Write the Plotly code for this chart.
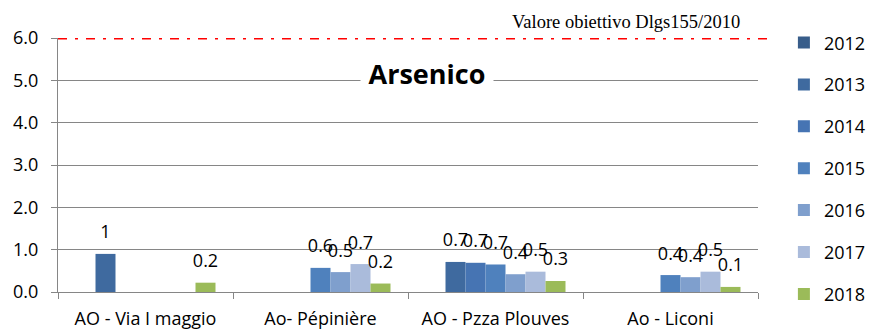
import plotly.graph_objects as go

categories = ["AO - Via I maggio", "Ao- Pépinière", "AO - Pzza Plouves", "Ao - Liconi"]
years = ["2012", "2013", "2014", "2015", "2016", "2017", "2018"]

v2012 = [None, None, None, None]
v2013 = [0.9, None, 0.71, None]
v2014 = [None, None, 0.69, None]
v2015 = [None, 0.57, 0.65, 0.40]
v2016 = [None, 0.47, 0.42, 0.35]
v2017 = [None, 0.66, 0.48, 0.48]
v2018 = [0.22, 0.20, 0.26, 0.12]

l2012 = [None, None, None, None]
l2013 = ["1", None, "0.7", None]
l2014 = [None, None, "0.7", None]
l2015 = [None, "0.6", "0.7", "0.4"]
l2016 = [None, "0.5", "0.4", "0.4"]
l2017 = [None, "0.7", "0.5", "0.5"]
l2018 = ["0.2", "0.2", "0.3", "0.1"]

series_values = [v2012, v2013, v2014, v2015, v2016, v2017, v2018]
series_labels = [l2012, l2013, l2014, l2015, l2016, l2017, l2018]
colors = ["#385D8A", "#3F6A9F", "#4674B3", "#4F81BD", "#7F9FCD", "#AABBDB", "#9BBB59"]

target_value = 6.0
target_label = "Valore obiettivo Dlgs155/2010"
title_text = "Arsenico"

FONT = "Open Sans"
fig = go.Figure()

for yr, vals, col in zip(years, series_values, colors):
    fig.add_trace(go.Bar(
        x=categories, y=vals, name=yr, marker=dict(color=col, line=dict(width=0)),
        legendgroup=yr, hoverinfo="skip",
    ))

for yr, vals, labs in zip(years, series_values, series_labels):
    fig.add_trace(go.Scatter(
        x=categories, y=vals, text=labs, mode="markers+text",
        marker=dict(size=16, color="rgba(0,0,0,0)"),
        textposition="top center", textfont=dict(family=FONT, size=18, color="#000000"),
        showlegend=False, hoverinfo="skip", cliponaxis=False,
    ))

gray = "#868686"
fig.update_layout(
    width=869, height=329,
    margin=dict(l=58, r=111, t=38, b=37, pad=0, autoexpand=False),
    paper_bgcolor="white", plot_bgcolor="white",
    barmode="group", bargap=0.2, bargroupgap=0,
    scattermode="group", scattergap=0.2,
    font=dict(family=FONT, size=18, color="#000000"),
    showlegend=True,
    legend=dict(x=1.037, xanchor="left", y=1.054, yanchor="top", maxheight=325,
                font=dict(family=FONT, size=18, color="#000000"),
                tracegroupgap=15.5, itemwidth=30, bgcolor="rgba(0,0,0,0)"),
    xaxis=dict(type="category", showgrid=False, showline=True, linecolor=gray, linewidth=1,
               ticks="outside", tickson="boundaries", ticklen=6, tickcolor=gray,
               ticklabelstandoff=10, tickfont=dict(family=FONT, size=18)),
    yaxis=dict(range=[0, 6], dtick=1, tickformat=".1f", showgrid=True, gridcolor=gray, gridwidth=1,
               showline=True, linecolor=gray, linewidth=1, ticks="outside", ticklen=6,
               tickcolor=gray, zeroline=False, ticklabelstandoff=9,
               tickfont=dict(family=FONT, size=18)),
)

fig.add_shape(type="line", xref="paper", yref="y", x0=0, x1=1.02, y0=target_value, y1=target_value,
              line=dict(color="#FF0000", width=3, dash="9px,8px,3px,8px"))

fig.add_annotation(text="<b>" + title_text + "</b>", xref="paper", yref="paper",
                   x=0.527, y=0.862, xanchor="center", yanchor="middle", showarrow=False,
                   font=dict(family=FONT, size=27, color="#000000"),
                   bgcolor="white", width=130, height=36)

fig.add_annotation(text=target_label, xref="paper", yref="paper",
                   x=0.977, y=1.063, xanchor="right", yanchor="middle", showarrow=False,
                   font=dict(family="Liberation Serif", size=18.5, color="#000000"))

fig.write_html("out.html")
